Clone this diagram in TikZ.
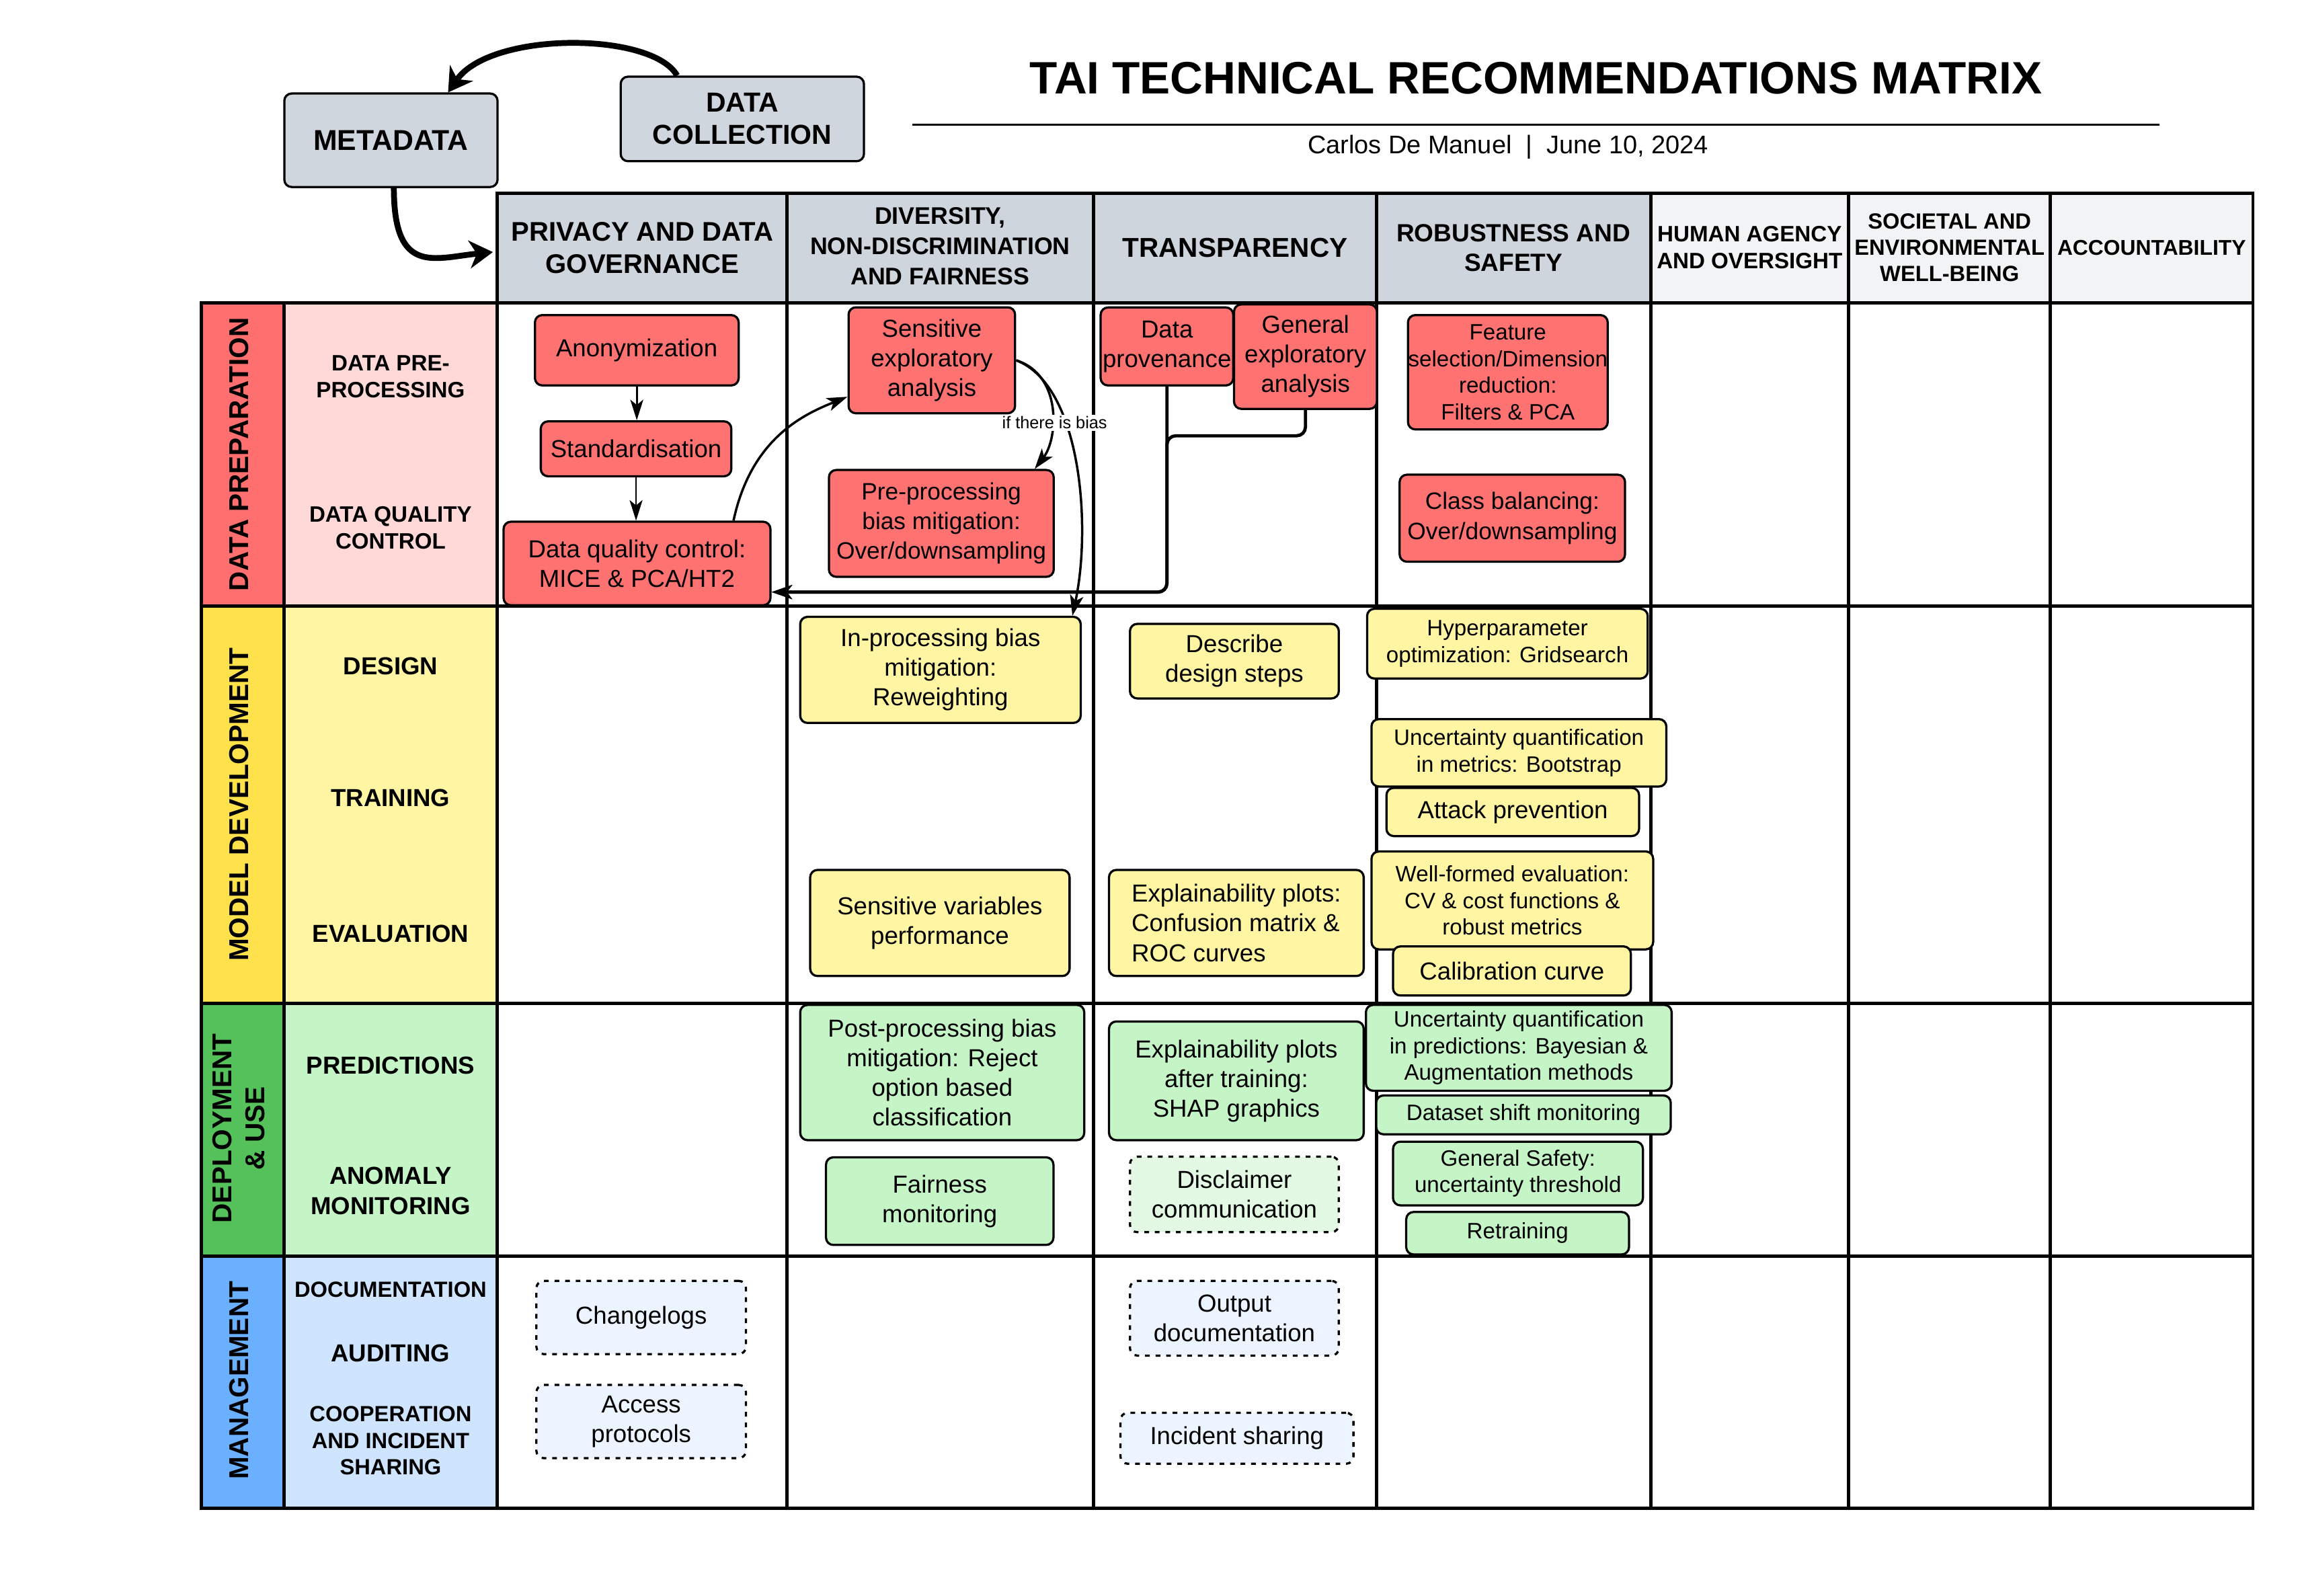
\documentclass[tikz,border=0pt]{standalone}
\usepackage{fontspec}
\setmainfont{Liberation Sans}
\usetikzlibrary{arrows.meta,calc}
\newcommand\fsz[2]{\fontsize{#1}{#2}\selectfont}
\definecolor{hdr}{HTML}{CFD5DD}
\definecolor{hdrl}{HTML}{F1F3F5}
\definecolor{dpA}{HTML}{FF6F6F}
\definecolor{dpB}{HTML}{FFD8D8}
\definecolor{mdA}{HTML}{FFE14C}
\definecolor{mdB}{HTML}{FFF5A3}
\definecolor{duA}{HTML}{55C15A}
\definecolor{duB}{HTML}{C5F5C7}
\definecolor{mgA}{HTML}{6BAFFF}
\definecolor{mgB}{HTML}{CFE4FF}
\definecolor{redn}{HTML}{FF7272}
\definecolor{yeln}{HTML}{FFF5A3}
\definecolor{grnn}{HTML}{C5F5C7}
\definecolor{grnd}{HTML}{E3F9E4}
\definecolor{blud}{HTML}{EBF4FF}
\definecolor{topn}{HTML}{D0D6DE}
\begin{document}
\begin{tikzpicture}[x=0.5pt,y=-0.5pt,
  box/.style={draw=black, line width=0.75pt, rounded corners=2.5pt, inner sep=0pt, align=center, font=\fsz{8.4}{10.1}},
  rbox/.style={box, fill=redn},
  ybox/.style={box, fill=yeln},
  gbox/.style={box, fill=grnn},
  gdash/.style={box, fill=grnd, dash pattern=on 1.6pt off 2pt},
  bdash/.style={box, fill=blud, dash pattern=on 1.6pt off 2pt},
  smalltxt/.style={font=\fsz{7.6}{9.1}},
  gridline/.style={line width=1.1pt, line cap=rect},
  thinarr/.style={-{Stealth[length=7pt,width=4.4pt,inset=1.8pt]}, line width=0.65pt},
  curvarr/.style={-{Stealth[length=7pt,width=4.6pt,inset=1.8pt]}, line width=0.8pt},
  connarr/.style={-{Stealth[length=7pt,width=4.8pt,inset=1.8pt]}, line width=1.1pt, rounded corners=3pt},
  bigarr/.style={-{Stealth[length=8pt,width=9.5pt,inset=2.5pt]}, line width=2pt},
  hdrtxt/.style={align=center, inner sep=0pt},
  phasetxt/.style={rotate=90, align=center, inner sep=0pt, font=\bfseries\fsz{9.3}{11.3}},
  subtxt/.style={align=center, inner sep=0pt},
]
\useasboundingbox (0,0) rectangle (1568,1089);

% ---------- fills ----------
\fill[hdr] (339.3,132) rectangle (1126.3,206.6);
\fill[hdrl] (1126.3,132) rectangle (1537.2,206.6);
\fill[dpA] (137.4,206.6) rectangle (194,413.6);
\fill[dpB] (194,206.6) rectangle (339.3,413.6);
\fill[mdA] (137.4,413.6) rectangle (194,684.7);
\fill[mdB] (194,413.6) rectangle (339.3,684.7);
\fill[duA] (137.4,684.7) rectangle (194,857);
\fill[duB] (194,684.7) rectangle (339.3,857);
\fill[mgA] (137.4,857) rectangle (194,1029.2);
\fill[mgB] (194,857) rectangle (339.3,1029.2);

% ---------- grid ----------
\draw[gridline] (339.3,132) -- (1537.2,132);
\foreach \yy in {206.6,413.6,684.7,857,1029.2}
  \draw[gridline] (137.4,\yy) -- (1537.2,\yy);
\foreach \xx in {137.4,194}
  \draw[gridline] (\xx,206.6) -- (\xx,1029.2);
\foreach \xx in {339.3,537,746,939.3,1126.3,1261.4,1399,1537.2}
  \draw[gridline] (\xx,132) -- (\xx,1029.2);

% ---------- title ----------
\node[font=\bfseries\fsz{15.5}{18}, inner sep=0pt] (title) at (1048,53.5) {TAI TECHNICAL RECOMMENDATIONS MATRIX};
\draw[line width=0.6pt] (622.4,85) -- (1473.4,85);
\node[font=\fsz{8.7}{10.4}, inner sep=0pt] (subt) at (1029,100.5) {Carlos De Manuel\ \ |\ \ June 10, 2024};

% ---------- header texts ----------
\node[hdrtxt, font=\bfseries\fsz{9.2}{11}] (hpriv) at (438.3,169) {PRIVACY AND DATA\\GOVERNANCE};
\node[hdrtxt, font=\bfseries\fsz{8.2}{10.3}] (hdiv) at (641.5,168) {DIVERSITY,\\NON-DISCRIMINATION\\AND FAIRNESS};
\node[hdrtxt, font=\bfseries\fsz{9.3}{11}] (htra) at (842.7,169) {TRANSPARENCY};
\node[hdrtxt, font=\bfseries\fsz{8.5}{10.1}] (hrob) at (1032.7,169) {ROBUSTNESS AND\\SAFETY};
\node[hdrtxt, font=\bfseries\fsz{7.6}{9.1}] (hhum) at (1193.8,169) {HUMAN AGENCY\\AND OVERSIGHT};
\node[hdrtxt, font=\bfseries\fsz{7.5}{9}] (hsoc) at (1330.2,169) {SOCIETAL AND\\ENVIRONMENTAL\\WELL-BEING};
\node[hdrtxt, font=\bfseries\fsz{7.3}{9}] (hacc) at (1468.1,169) {ACCOUNTABILITY};
\coordinate (hprivW) at (339.3,172);

% ---------- phase labels ----------
\node[phasetxt] (pDP) at (163,310) {DATA PREPARATION};
\node[phasetxt] (pMD) at (163,549) {MODEL DEVELOPMENT};
\node[phasetxt] (pDU) at (163,770) {DEPLOYMENT\\\& USE};
\node[phasetxt] (pMG) at (163,942) {MANAGEMENT};

\node[subtxt, font=\bfseries\fsz{7.6}{9.1}] (sDPP) at (266.5,257) {DATA PRE-\\PROCESSING};
\node[subtxt, font=\bfseries\fsz{7.6}{9.1}] (sDQC) at (266.5,360) {DATA QUALITY\\CONTROL};
\node[subtxt, font=\bfseries\fsz{8.4}{10.2}] (sDES) at (266.5,454.5) {DESIGN};
\node[subtxt, font=\bfseries\fsz{8.4}{10.2}] (sTRA) at (266.5,544.5) {TRAINING};
\node[subtxt, font=\bfseries\fsz{8.4}{10.2}] (sEVA) at (266.5,637) {EVALUATION};
\node[subtxt, font=\bfseries\fsz{8.4}{10.2}] (sPRE) at (266.5,727) {PREDICTIONS};
\node[subtxt, font=\bfseries\fsz{8.4}{10.4}] (sANO) at (266.5,812.5) {ANOMALY\\MONITORING};
\node[subtxt, font=\bfseries\fsz{7.5}{9}] (sDOC) at (266.5,880) {DOCUMENTATION};
\node[subtxt, font=\bfseries\fsz{8.4}{10.2}] (sAUD) at (266.5,923.4) {AUDITING};
\node[subtxt, font=\bfseries\fsz{7.5}{9}] (sCOO) at (266.5,983) {COOPERATION\\AND INCIDENT\\SHARING};

% ---------- top boxes ----------
\node[box, fill=topn, font=\bfseries\fsz{9.8}{11.8}, minimum width=72.75pt, minimum height=31.9pt] (meta) at (266.75,95.7) {METADATA};
\node[box, fill=topn, font=\bfseries\fsz{9.4}{11}, minimum width=83pt, minimum height=28.85pt] (coll) at (506.5,81.15) {DATA\\COLLECTION};

% ---------- data preparation ----------
\node[rbox, minimum width=69.5pt, minimum height=24pt] (anon) at (434.5,239) {Anonymization};
\node[rbox, minimum width=65pt, minimum height=18.75pt] (stand) at (434,306.25) {Standardisation};
\node[rbox, minimum width=91.05pt, minimum height=28.5pt] (dqc) at (434.65,384.5) {Data quality control:\\MICE \& PCA/HT2};
\node[rbox, minimum width=56.8pt, minimum height=36.15pt] (sens) at (635.8,245.85) {Sensitive\\exploratory\\analysis};
\node[rbox, font=\fsz{8.1}{10.1}, minimum width=76.7pt, minimum height=36.45pt] (prep) at (642.3,357.15) {Pre-processing\\bias mitigation:\\Over/downsampling};
\node[rbox, minimum width=45.25pt, minimum height=26.6pt] (prov) at (796.25,236.4) {Data\\provenance};
\node[rbox, minimum width=48.75pt, minimum height=35.65pt] (gen) at (890.75,243.35) {General\\exploratory\\analysis};
\node[rbox, smalltxt, minimum width=68.15pt, minimum height=39pt] (feat) at (1028.85,254) {Feature\\selection/Dimension\\reduction:\\Filters \& PCA};
\node[rbox, font=\fsz{8.1}{10.2}, minimum width=76.9pt, minimum height=29.7pt] (cls) at (1031.9,353.6) {Class balancing:\\Over/downsampling};

% ---------- model development ----------
\node[ybox, minimum width=95.7pt, minimum height=36.2pt] (inproc) at (641.7,457.1) {In-processing bias\\mitigation:\\Reweighting};
\node[ybox, minimum width=71.25pt, minimum height=25.45pt] (desc) at (842.25,451.15) {Describe\\design steps};
\node[ybox, smalltxt, minimum width=95.75pt, minimum height=23.8pt] (hyper) at (1028.55,439.2) {Hyperparameter\\optimization: Gridsearch};
\node[ybox, smalltxt, minimum width=100.6pt, minimum height=23pt] (unc1) at (1036.4,513.7) {Uncertainty quantification\\in metrics: Bootstrap};
\node[ybox, minimum width=86.2pt, minimum height=16.45pt] (attack) at (1032.2,554.05) {Attack prevention};
\node[ybox, smalltxt, minimum width=96.1pt, minimum height=33.4pt] (wellf) at (1031.9,614.4) {Well-formed evaluation:\\CV \& cost functions \&\\robust metrics};
\node[ybox, minimum width=81.15pt, minimum height=16.75pt] (calib) at (1031.65,662.55) {Calibration curve};
\node[ybox, minimum width=88.5pt, minimum height=36.2pt] (sensvar) at (641.3,629.8) {Sensitive variables\\performance};
\node[ybox, align=left, minimum width=86.9pt, minimum height=36.2pt] (expl) at (843.6,629.8) {Explainability plots:\\Confusion matrix \&\\ROC curves};

% ---------- deployment ----------
\node[gbox, minimum width=96.9pt, minimum height=46.15pt] (post) at (642.9,731.85) {Post-processing bias\\mitigation: Reject\\option based\\classification};
\node[gbox, minimum width=86.9pt, minimum height=40.5pt] (expl2) at (843.6,737.5) {Explainability plots\\after training:\\SHAP graphics};
\node[gbox, smalltxt, minimum width=104.3pt, minimum height=29.3pt] (unc2) at (1036.3,715) {Uncertainty quantification\\in predictions: Bayesian \&\\Augmentation methods};
\node[gbox, smalltxt, minimum width=100.5pt, minimum height=13.25pt] (shift) at (1039.5,760.75) {Dataset shift monitoring};
\node[gbox, smalltxt, minimum width=85.25pt, minimum height=21.75pt] (gsafe) at (1035.75,800.75) {General Safety:\\uncertainty threshold};
\node[gbox, smalltxt, minimum width=76pt, minimum height=14.5pt] (retrain) at (1035.5,841.5) {Retraining};
\node[gbox, minimum width=77.6pt, minimum height=29.9pt] (fair) at (641.2,819.6) {Fairness\\monitoring};
\node[gdash, minimum width=71.25pt, minimum height=25.75pt] (discl) at (842.25,815.05) {Disclaimer\\communication};

% ---------- management ----------
\node[bdash, minimum width=71.25pt, minimum height=25.5pt] (outdoc) at (842.25,899.5) {Output\\documentation};
\node[bdash, minimum width=79.5pt, minimum height=17.4pt] (incid) at (844,981.4) {Incident sharing};
\node[bdash, minimum width=71.5pt, minimum height=25pt] (change) at (437.5,899) {Changelogs};
\node[bdash, minimum width=71.5pt, minimum height=25pt] (access) at (437.5,970) {Access\\protocols};

% ---------- connectors ----------
\draw[bigarr] ($(coll.north)+(-44.5,0)$) .. controls +(-17,-30) and +(29,-42) .. ($(meta.north)+(39,0)$);
\draw[bigarr] ($(meta.south)+(2,0)$) .. controls +(0,60) and +(-40,4) .. ($(hprivW)+(-3,0)$);

\draw[thinarr] (anon.south) -- (anon.south |- stand.north);
\draw[thinarr] (stand.south) -- (stand.south |- dqc.north);

\draw[curvarr] ($(dqc.north)+(65.85,0)$) .. controls +(12,-56) and +(-30,12) .. ($(sens.south west)+(0,-12)$);
\draw[curvarr] (sens.east) .. controls +(31.5,10) and +(16,-20.7) .. ($(prep.north)+(63.7,0)$);
\draw[curvarr] (sens.east) .. controls +(44.5,17) and +(13,-61) .. ($(inproc.north east)+(-6.4,0)$);
\node[fill=white, inner sep=0.6pt, font=\fsz{5.8}{7}] (bias) at (719.6,288.5) {if there is bias};

\coordinate (dqcin) at ($(dqc.east)+(0,19.5)$);
\draw[connarr] (prov.south) |- (dqcin);
\draw[connarr] (gen.south) -- ++(0,17.6) -| ($(prov.south)+(0,60)$) |- (dqcin);
\end{tikzpicture}
\end{document}
